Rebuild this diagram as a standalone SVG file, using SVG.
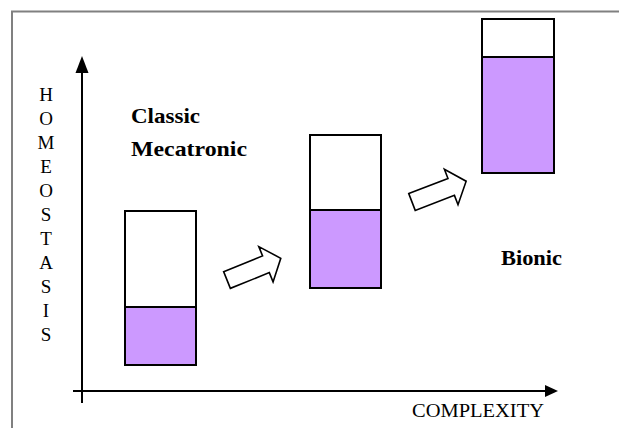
<svg xmlns="http://www.w3.org/2000/svg" width="619" height="428" viewBox="0 0 619 428">
<style>
.frame{fill:none;stroke:#808080;stroke-width:2}
.axis{stroke:#000;stroke-width:2;fill:none}
.head{fill:#000}
.box{fill:#fff;stroke:#000;stroke-width:2}
.fill{fill:#cc99ff;stroke:#000;stroke-width:2}
.blk{fill:#fff;stroke:#000;stroke-width:1.6;stroke-linejoin:miter}
.lbl{font-family:"Liberation Serif","Times New Roman",serif;font-weight:bold;font-size:22px;fill:#000}
.ax{font-family:"Liberation Serif","Times New Roman",serif;font-size:19px;fill:#000;text-anchor:middle}
</style>
<rect width="619" height="428" fill="#fff"/>
<path class="frame" d="M12,428 V11.5 H619"/>
<g id="connectors">
  <line class="axis" x1="82" y1="70" x2="82" y2="403"/>
  <polygon class="head" points="82,56 75.5,73 88.5,73"/>
  <line class="axis" x1="73" y1="391" x2="548" y2="391"/>
  <polygon class="head" points="558,391 545,385 545,397"/>
  <g id="arrow1" transform="translate(227,280) rotate(-22)">
    <polygon class="blk" points="0,-9 42,-9 42,-19 58,0 42,19 42,9 0,9"/>
  </g>
  <g id="arrow2" transform="translate(412,202) rotate(-21)">
    <polygon class="blk" points="0,-9 42,-9 42,-19 58,0 42,19 42,9 0,9"/>
  </g>
</g>
<g id="box1">
  <rect class="box" x="125" y="211" width="71" height="154"/>
  <rect class="fill" x="125" y="307" width="71" height="58"/>
</g>
<g id="box2">
  <rect class="box" x="310" y="135" width="71" height="153"/>
  <rect class="fill" x="310" y="210" width="71" height="78"/>
</g>
<g id="box3">
  <rect class="box" x="482" y="19" width="72" height="154"/>
  <rect class="fill" x="482" y="57" width="72" height="116"/>
</g>
<g id="label-classic">
  <text class="lbl" x="131" y="123" textLength="69" lengthAdjust="spacingAndGlyphs">Classic</text>
  <text class="lbl" x="131" y="156" textLength="116" lengthAdjust="spacingAndGlyphs">Mecatronic</text>
</g>
<g id="label-bionic">
  <text class="lbl" x="501" y="265" textLength="61" lengthAdjust="spacingAndGlyphs">Bionic</text>
</g>
<g id="y-label">
  <text class="ax" x="46" y="101">H</text>
  <text class="ax" x="46" y="125">O</text>
  <text class="ax" x="46" y="149">M</text>
  <text class="ax" x="46" y="173">E</text>
  <text class="ax" x="46" y="197">O</text>
  <text class="ax" x="46" y="221">S</text>
  <text class="ax" x="46" y="245">T</text>
  <text class="ax" x="46" y="269">A</text>
  <text class="ax" x="46" y="293">S</text>
  <text class="ax" x="46" y="317">I</text>
  <text class="ax" x="46" y="341">S</text>
</g>
<g id="x-label">
  <text x="412" y="417" font-family="'Liberation Serif','Times New Roman',serif" font-size="19" textLength="132" lengthAdjust="spacingAndGlyphs">COMPLEXITY</text>
</g>
</svg>
